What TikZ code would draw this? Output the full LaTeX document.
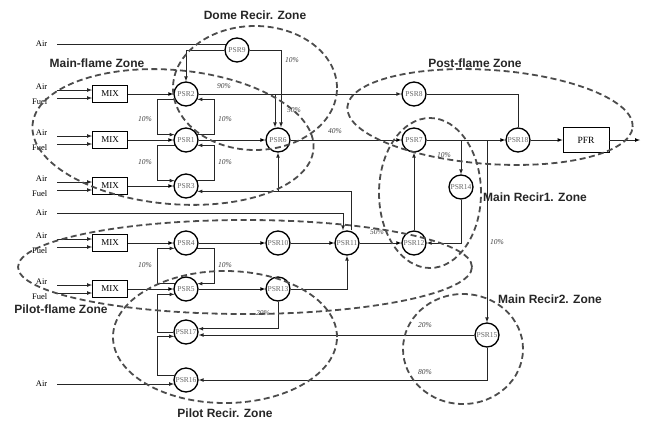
\documentclass[tikz,border=0pt]{standalone}
\usepackage{fontspec}
\setmainfont{Liberation Serif}
\newfontfamily\zonefont{Liberation Sans}
\usetikzlibrary{arrows,calc}
\definecolor{zonegray}{rgb}{.3,.3,.3}
\definecolor{txtgray}{rgb}{.4,.4,.4}

\begin{document}
\begin{tikzpicture}[x=1pt,y=-1pt,>=latex,% pixel grid of the reference, y downwards
		every node/.style={align=center},
		psr/.style={circle,draw=black,line width=1.3pt,minimum size=24pt,inner sep=0pt,
			font=\fontsize{7.5}{8}\selectfont,text=txtgray},
		mixbox/.style={rectangle,draw=black,line width=.8pt,minimum width=35pt,minimum height=17pt,
			inner sep=0pt,font=\fontsize{9}{10}\selectfont},
		pfrbox/.style={rectangle,draw=black,line width=.8pt,minimum width=46pt,minimum height=25pt,
			inner sep=0pt,font=\fontsize{9.5}{10}\selectfont},
		feed/.style={inner sep=.5pt,font=\fontsize{8.5}{9}\selectfont},
		pct/.style={inner sep=0pt,font=\fontsize{7.5}{8}\selectfont\itshape,text=black!75},
		zone/.style={draw=zonegray,line width=1.8pt,dash pattern=on 6pt off 3.5pt},
		zonelabel/.style={inner sep=0pt,font=\zonefont\bfseries\fontsize{12}{13}\selectfont,text=black!85},
		flow/.style={draw=black!85,line width=.7pt,->},
		wire/.style={draw=black!85,line width=.7pt}
	]
	\useasboundingbox (0,0) rectangle (647,421);

	% reactors
	\node[psr] (P9) at (237,50) {PSR9};
	\node[psr] (P2) at (186,94) {PSR2};
	\node[psr] (P1) at (186,140) {PSR1};
	\node[psr] (P3) at (186,186) {PSR3};
	\node[psr] (P6) at (278,140) {PSR6};
	\node[psr] (P8) at (414,94) {PSR8};
	\node[psr] (P7) at (414,140) {PSR7};
	\node[psr] (P18) at (518,140) {PSR18};
	\node[psr] (P14) at (461,187) {PSR14};
	\node[psr] (P4) at (186,243) {PSR4};
	\node[psr] (P10) at (278,243) {PSR10};
	\node[psr] (P11) at (347,243) {PSR11};
	\node[psr] (P12) at (414,243) {PSR12};
	\node[psr] (P5) at (186,289) {PSR5};
	\node[psr] (P13) at (278,289) {PSR13};
	\node[psr] (P17) at (186,332) {PSR17};
	\node[psr] (P16) at (186,380) {PSR16};
	\node[psr] (P15) at (487,335) {PSR15};
	\node[pfrbox] (PFR) at (586,140) {PFR};
	\coordinate (out) at (640,140);
	\coordinate (LL) at (157,0); % left loop rail
	\coordinate (LR) at (214,0); % right loop rail

	% mixers with air / fuel feeds
	\foreach \m/\y in {1/94,2/140,3/186,4/243,5/289}{
		\node[mixbox] (M\m) at (110,\y) {MIX};
		\node[feed,anchor=south east] (A\m) at (48,\y-4) {Air};
		\node[feed,anchor=north east] (F\m) at (48,\y+4) {Fuel};
		\draw[flow] ([xshift=9pt]A\m.south east) -- (A\m.south east -| M\m.west);
		\draw[flow] ([xshift=9pt]F\m.north east) -- (F\m.north east -| M\m.west);
	}
	\path[flow] (M1) edge (P2) (M2) edge (P1) (M3) edge (P3) (M4) edge (P4) (M5) edge (P5);

	% single air feeds
	\node[feed,anchor=east] (A0) at (48,44) {Air};
	\node[feed,anchor=east] (A6) at (48,213) {Air};
	\node[feed,anchor=east] (A7) at (48,384) {Air};
	\draw[wire] ([xshift=9pt]A0.east) -- (A0.east -| P9.150);
	\draw[flow] ([xshift=9pt]A6.east) -| ([xshift=-4pt]P11.north);
	\draw[flow] ([xshift=9pt]A7.east) -- (A7.east -| P16.200);

	% main flame loops
	\draw[flow] (P2.205) -- (P2.205 -| LL) |- (P1.155);
	\draw[flow] (P1.25) -- (P1.25 -| LR) |- (P2.-25);
	\draw[flow] (P1.205) -- (P1.205 -| LL) |- (P3.155);
	\draw[flow] (P3.25) -- (P3.25 -| LR) |- (P1.-25);

	% dome recirculation
	\draw[flow] (P9.west) -| (P2.north);
	\draw[flow] (P9.east) -| ([xshift=3pt]P6.north);
	\draw[flow] (P2.east) -- (P8.west);
	\draw[flow] (P2.east) -| ([xshift=-3pt]P6.north);
	\path[flow] (P1) edge (P6) (P6) edge (P7);
	\draw[flow] ([xshift=4pt]P11.north) |- (P3.-25);
	\draw[flow] (P6.south |- P3.-25) -- (P6.south);

	% pilot flame
	\draw[flow] (P4.-25) -- (P4.-25 -| LR) |- (P5.25);
	\draw[flow] (P5.155) -- (P5.155 -| LL) |- (P4.205);
	\draw[flow] (P17.west) -- (P17.west -| LL) |- (P5.205);
	\draw[flow] (P16.160) -- (P16.160 -| LL) |- (P17.200);
	\path[flow] (P4) edge (P10) (P10) edge (P11) (P11) edge (P12) (P5) edge (P13);
	\draw[flow] (P13.east) -| (P11.south);
	\draw[flow] (P13.south) |- (P17.15);

	% post flame and main recirculation
	\draw[flow] (P12) -- (P7);
	\path[flow] (P7) edge (P18) (P18) edge (PFR) (PFR) edge (out);
	\draw[wire] (P8.east) -| (P18.north);
	\draw[flow] (P14.north |- P7.east) -- (P14.north);
	\draw[flow] (P14.south) |- (P12.east);
	\draw[flow] (P15.north |- P7.east) -- (P15.north);
	\draw[flow] (P15.west) -- (P15.west -| P17.east);
	\draw[flow] (P15.south) |- (P16.east);

	% split fractions
	\foreach \lbl/\x/\y [count=\i] in {10\%/292/60, 90\%/224/86, 50\%/294/110,
			10\%/145/119, 10\%/225/119, 10\%/145/162, 10\%/225/162, 40\%/335/131,
			10\%/444/155, 10\%/497/242, 50\%/377/232, 10\%/145/265, 10\%/225/265,
			20\%/263/313, 20\%/425/325, 80\%/425/372}
		\node[pct] (pc\i) at (\x,\y) {\lbl};

	% zones
	\draw[zone,rotate around={-5:(173,137)}] (173,137) ellipse [x radius=141pt,y radius=67pt];
	\draw[zone] (255,88) ellipse [x radius=82pt,y radius=62pt];
	\draw[zone,rotate around={-4:(490,117)}] (490,117) ellipse [x radius=143pt,y radius=47pt];
	\draw[zone] (430,193) ellipse [x radius=51pt,y radius=75pt];
	\draw[zone] (245,267) ellipse [x radius=227pt,y radius=47pt];
	\draw[zone] (225,337) ellipse [x radius=112pt,y radius=66pt];
	\draw[zone] (463,349) ellipse [x radius=60pt,y radius=55pt];
	\node[zonelabel] (zDome) at (255,15) {Dome Recir. Zone};
	\node[zonelabel] (zMain) at (97,63) {Main-flame Zone};
	\node[zonelabel] (zPost) at (475,63) {Post-flame Zone};
	\node[zonelabel] (zRecA) at (535,197) {Main Recir1. Zone};
	\node[zonelabel] (zPilot) at (61,309) {Pilot-flame Zone};
	\node[zonelabel] (zPRec) at (225,413) {Pilot Recir. Zone};
	\node[zonelabel] (zRecB) at (550,299) {Main Recir2. Zone};
\end{tikzpicture}
\end{document}
